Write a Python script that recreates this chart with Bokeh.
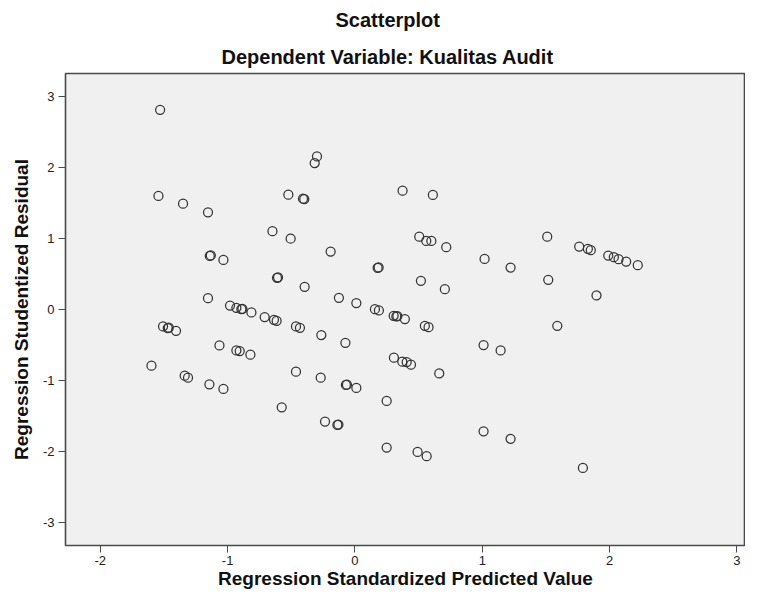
from bokeh.plotting import figure
from bokeh.models import Range1d, FixedTicker, Title
from bokeh.embed import file_html
from bokeh.resources import INLINE

pred = [-1.530, -1.543, -1.350, -1.154, -0.523, -0.408, -0.398, -0.298, -0.316, 0.374,
        0.612, -0.648, -0.505, -1.140, -1.132, -1.033, -0.612, -0.604, -0.395, -1.154,
        -0.981, -0.931, -0.892, -0.884, -0.813, -0.709, -0.636, -0.615, -0.463, -0.432,
        -1.507, -1.470, -1.462, -1.405, -1.064, -0.931, -0.905, -0.821, -1.598, -0.463,
        -1.337, -1.311, -1.143, -1.033, -0.191, 0.178, 0.186, 0.505, 0.560, 0.600,
        0.717, 1.018, 1.222, 1.510, 1.518, 0.518, 0.706, -0.126, 0.011, 0.157,
        0.188, 0.304, 0.325, 0.333, 0.392, 0.549, 0.578, -0.264, -0.075, 1.010,
        1.144, 0.306, 0.372, 0.406, 0.440, 0.662, -0.269, -0.071, -0.063, 0.011,
        0.249, -0.235, -0.138, -0.130, 0.249, 0.492, 0.563, 1.010, 1.222, -0.575,
        1.790, 1.761, 1.829, 1.852, 1.989, 2.033, 2.070, 2.130, 2.221, 1.897,
        1.589]
resid = [2.810, 1.597, 1.489, 1.368, 1.615, 1.559, 1.552, 2.154, 2.060, 1.671,
         1.611, 1.101, 0.997, 0.754, 0.760, 0.698, 0.445, 0.452, 0.319, 0.160,
         0.056, 0.024, 0.005, 0.010, -0.042, -0.107, -0.145, -0.159, -0.239, -0.257,
         -0.239, -0.261, -0.255, -0.299, -0.506, -0.576, -0.585, -0.636, -0.791, -0.875,
         -0.931, -0.959, -1.053, -1.118, 0.815, 0.586, 0.592, 1.025, 0.965, 0.965,
         0.876, 0.712, 0.590, 1.025, 0.417, 0.403, 0.286, 0.164, 0.090, 0.005,
         -0.014, -0.088, -0.098, -0.092, -0.135, -0.229, -0.248, -0.360, -0.468, -0.500,
         -0.576, -0.678, -0.735, -0.739, -0.777, -0.899, -0.959, -1.062, -1.058, -1.104,
         -1.287, -1.577, -1.624, -1.619, -1.942, -2.003, -2.064, -1.713, -1.820, -1.376,
         -2.228, 0.885, 0.853, 0.834, 0.758, 0.736, 0.708, 0.674, 0.624, 0.197,
         -0.229]

x_ticks = [-2, -1, 0, 1, 2, 3]
y_ticks = [-3, -2, -1, 0, 1, 2, 3]

title_main = "Scatterplot"
title_sub = "Dependent Variable: Kualitas Audit"
x_label = "Regression Standardized Predicted Value"
y_label = "Regression Studentized Residual"

FONT = "Liberation Sans"

p = figure(width=745, height=591, output_backend="svg", toolbar_location=None,
           x_range=Range1d(-2.273, 3.067), y_range=Range1d(-3.32, 3.32),
           min_border_left=65, min_border_right=0, min_border_top=73, min_border_bottom=45)

p.background_fill_color = "#f0f0f0"
p.border_fill_color = "white"
p.outline_line_color = "#4a4a4a"
p.outline_line_width = 1.6
p.xgrid.visible = False
p.ygrid.visible = False

sub = Title(text=title_sub, align="left", offset=156, text_font=FONT, text_font_size="20px",
            text_font_style="bold", text_color="#111111", standoff=12)
main = Title(text=title_main, align="left", offset=270, vertical_align="top", text_font=FONT,
             text_font_size="20px", text_font_style="bold", text_color="#111111", standoff=10)
p.add_layout(sub, "above")
p.add_layout(main, "above")

for ax in (p.xaxis[0], p.yaxis[0]):
    ax.axis_line_color = "#4a4a4a"
    ax.major_tick_line_color = "#4a4a4a"
    ax.major_tick_out = 7
    ax.major_tick_in = 0
    ax.minor_tick_line_color = None
    ax.major_label_text_font = FONT
    ax.major_label_text_font_size = "13px"
    ax.major_label_text_color = "#222222"
    ax.axis_label_text_font = FONT
    ax.axis_label_text_font_size = "19px"
    ax.axis_label_text_font_style = "bold"
    ax.axis_label_text_color = "#111111"

p.xaxis.ticker = FixedTicker(ticks=x_ticks)
p.yaxis.ticker = FixedTicker(ticks=y_ticks)
p.xaxis.major_label_overrides = {t: str(t) for t in x_ticks}
p.yaxis.major_label_overrides = {t: str(t) for t in y_ticks}
p.xaxis.axis_label = x_label
p.yaxis.axis_label = y_label
p.xaxis.major_label_standoff = 3
p.yaxis.major_label_standoff = 4
p.xaxis.axis_label_standoff = 0
p.yaxis.axis_label_standoff = 8

p.scatter(pred, resid, marker="circle", size=9, fill_color=None,
          line_color="#333333", line_width=1.25)

open("out.html", "w").write(file_html(p, INLINE))
